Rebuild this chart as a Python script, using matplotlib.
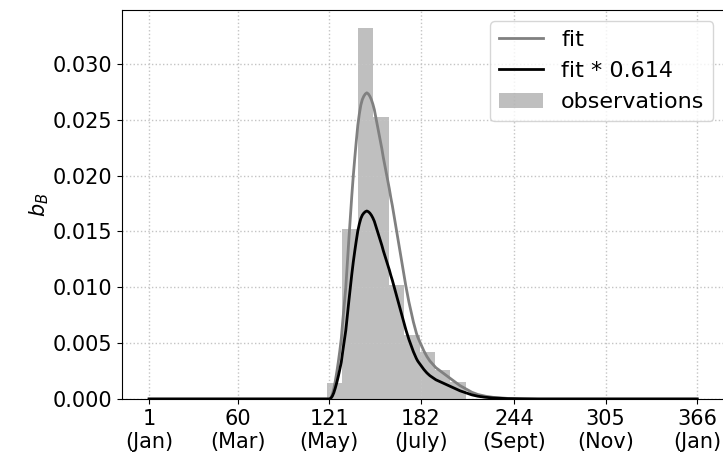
import numpy as np
import matplotlib
matplotlib.use("Agg")
import matplotlib.pyplot as plt

# Histogram of observations (density)
bin_edges = [119.3, 129.6, 139.9, 150.2, 160.5, 170.8, 181.1, 191.4, 201.7, 212.0]
obs_density = [0.0014, 0.0152, 0.0332, 0.0252, 0.0102, 0.0057, 0.0042, 0.0026, 0.0015]

# Fitted curve
fit_days = [1, 60, 120, 121, 122, 123, 124, 125, 126, 127, 128, 129, 130, 131, 132,
            133, 134, 135, 136, 137, 138, 139, 140, 141, 142, 143, 144, 145, 146,
            147, 148, 149, 150, 151, 152, 153, 154, 155, 156, 157, 158, 159, 160,
            161, 162, 163, 164, 165, 166, 167, 168, 169, 170, 171, 172, 173, 174,
            175, 176, 177, 178, 179, 180, 182, 184, 186, 188, 190, 192, 194, 196,
            198, 200, 204, 208, 212, 216, 220, 225, 230, 240, 250, 260, 300, 366]
fit_vals = [0, 0, 0, 0.0, 0.0001, 0.0004, 0.0009, 0.0016, 0.0024, 0.0033, 0.0043,
            0.0054, 0.0070, 0.0085, 0.0100, 0.0121, 0.0142, 0.0162, 0.0182, 0.0200,
            0.0216, 0.0231, 0.0245, 0.0255, 0.0263, 0.0268, 0.0271, 0.0273, 0.0274,
            0.0273, 0.0271, 0.0268, 0.0264, 0.0259, 0.0252, 0.0245, 0.0238, 0.0231,
            0.0224, 0.0216, 0.0209, 0.0202, 0.0195, 0.0188, 0.0180, 0.0173, 0.0165,
            0.0157, 0.0149, 0.0141, 0.0133, 0.0125, 0.0117, 0.0109, 0.0101, 0.0094,
            0.0087, 0.0081, 0.0075, 0.0069, 0.0064, 0.0059, 0.0055, 0.0049, 0.0043,
            0.0038, 0.0034, 0.0031, 0.0028, 0.0026, 0.0024, 0.0022, 0.0020, 0.0016,
            0.0012, 0.0009, 0.0006, 0.0004, 0.00025, 0.00015, 0.00005, 0.00002,
            0.0, 0.0, 0.0]
scale_factor = 0.614

tick_days = [1, 60, 121, 182, 244, 305, 366]
tick_months = ["Jan", "Mar", "May", "July", "Sept", "Nov", "Jan"]

plt.rcParams['font.size'] = 15

fig = plt.figure(figsize=(7.23, 4.61), dpi=100)
ax = fig.add_axes([0.1683, 0.1345, 0.8339, 0.8435])

days = np.array(fit_days, dtype=float)
vals = np.array(fit_vals, dtype=float)
ax.plot(days, vals, color='gray', lw=2, label='fit')
ax.plot(days, vals * scale_factor, color='black', lw=2, label=f'fit * {scale_factor}')

edges = np.array(bin_edges)
ax.bar(edges[:-1], obs_density, width=np.diff(edges), align='edge',
       color='gray', alpha=0.5, label='observations')

ax.set_xticks(tick_days)
ax.set_xticklabels([f"{d}\n({m})" for d, m in zip(tick_days, tick_months)])
ax.set_xlim(-17.25, 384.25)
ax.set_ylim(0, 0.0348)
ax.set_yticks([0, 0.005, 0.010, 0.015, 0.020, 0.025, 0.030])
ax.set_yticklabels(["0.000", "0.005", "0.010", "0.015", "0.020", "0.025", "0.030"])
ax.grid(True, linestyle=':', color='#c4c4c4', lw=1)
ax.set_ylabel('$b_B$', labelpad=1)
ax.legend(loc='upper right', fontsize=16)

fig.savefig('out.png', dpi=100)
